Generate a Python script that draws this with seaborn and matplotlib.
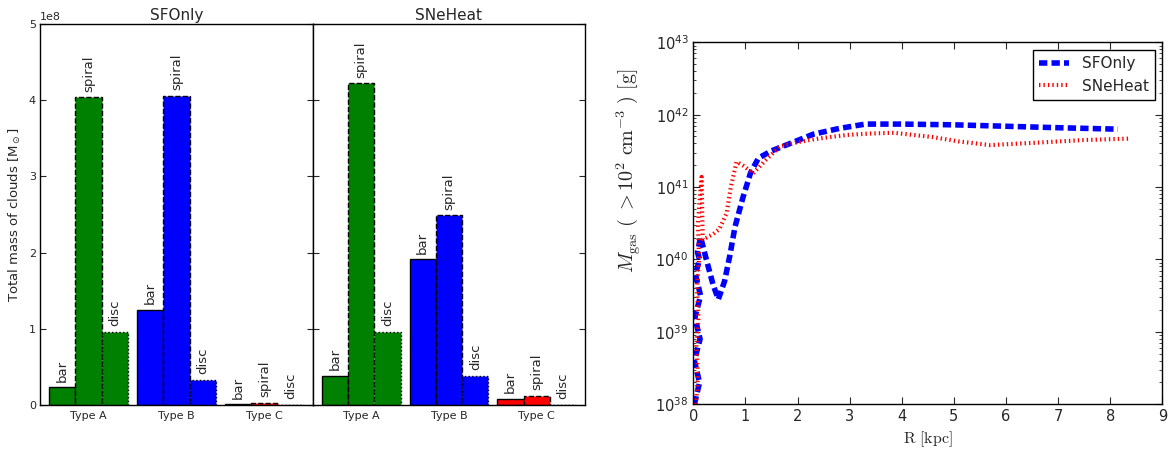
import numpy as np
import pandas as pd
import matplotlib
matplotlib.use("Agg")
import matplotlib.pyplot as plt
import seaborn as sns

# --- cloud masses (units of 1e8 Msun), rows = galaxy type, cols = morphology
types = ["Type A", "Type B", "Type C"]
shapes = ["bar", "spiral", "disc"]
type_colors = ["green", "blue", "red"]
shape_styles = ["-", "--", ":"]
sfonly_mass = [[0.23, 4.04, 0.96],
               [1.25, 4.055, 0.33],
               [0.01, 0.03, 0.006]]
sneheat_mass = [[0.385, 4.22, 0.96],
                [1.91, 2.49, 0.385],
                [0.083, 0.118, 0.005]]

# --- dense gas mass profiles, log10(M/g) against R [kpc]
sf_r = [0.02, 0.12, 0.02, 0.13, 0.03, 0.14, 0.04, 0.12, 0.08, 0.14, 0.25, 0.38,
        0.48, 0.60, 0.70, 0.80, 0.95, 1.10, 1.25, 1.50, 1.85, 2.30, 2.80, 3.30,
        4.00, 5.00, 6.00, 7.00, 8.15]
sf_logm = [38.0, 38.3, 38.6, 38.9, 39.2, 39.5, 39.8, 40.0, 40.1, 40.31, 40.0, 39.65,
           39.45, 39.7, 40.05, 40.45, 40.85, 41.2, 41.4, 41.5, 41.6, 41.73, 41.81, 41.87,
           41.87, 41.86, 41.84, 41.82, 41.80]
sh_r = [0.05, 0.09, 0.06, 0.10, 0.07, 0.11, 0.09, 0.13, 0.16, 0.18, 0.25, 0.38,
        0.50, 0.64, 0.72, 0.83, 0.95, 1.15, 1.40, 1.66, 2.00, 2.40, 2.95, 3.40,
        3.85, 4.60, 5.10, 5.70, 6.50, 7.50, 8.40]
sh_logm = [38.0, 38.4, 38.8, 39.2, 39.6, 40.0, 40.5, 40.9, 41.14, 40.28, 40.3, 40.35,
           40.42, 40.64, 41.0, 41.35, 41.3, 41.19, 41.38, 41.56, 41.62, 41.67, 41.72, 41.74,
           41.75, 41.69, 41.63, 41.58, 41.61, 41.65, 41.67]

sns.set_style("ticks", {"xtick.direction": "in", "ytick.direction": "in"})
plt.rcParams["font.family"] = ["DejaVu Sans"]
plt.rcParams["lines.scale_dashes"] = False

fig = plt.figure(figsize=(11.68, 4.5), dpi=100)
ax1 = fig.add_axes([40 / 1168, 0.1, 273 / 1168, 381 / 450])
ax2 = fig.add_axes([313 / 1168, 0.1, 272 / 1168, 381 / 450], sharey=ax1)
ax3 = fig.add_axes([693.3 / 1168, 0.1016, 469 / 1168, 362 / 450])


def mass_panel(ax, masses, title):
    rows = []
    for t, row in zip(types, masses):
        for s, m in zip(shapes, row):
            rows.append({"type": t, "shape": s, "mass": m * 1e8})
    df = pd.DataFrame(rows)
    sns.barplot(data=df, x="type", y="mass", hue="shape", order=types,
                hue_order=shapes, width=0.9, errorbar=None, saturation=1,
                legend=False, ax=ax)
    for i, cont in enumerate(ax.containers):
        for patch in cont:
            j = int(round(patch.get_x() + patch.get_width() / 2))
            patch.set_facecolor(type_colors[j])
            patch.set_edgecolor("black")
            patch.set_linestyle(shape_styles[i])
            patch.set_linewidth(1.0)
        ax.bar_label(cont, labels=[shapes[i]] * len(cont), rotation=90,
                     padding=4, fontsize=9.5)
    ax.set_xlim(-0.55, 2.55)
    ax.set_ylim(0, 5e8)
    ax.set_title(title, fontsize=11, pad=3)
    ax.set_xlabel("")
    ax.set_ylabel("")
    ax.tick_params(axis="x", length=0, labelsize=8, pad=4)
    ax.tick_params(axis="y", which="both", left=True, right=True, length=4,
                   labelsize=8, pad=3)
    for sp in ax.spines.values():
        sp.set_visible(True)
        sp.set_color("black")
        sp.set_linewidth(1.0)


mass_panel(ax1, sfonly_mass, "SFOnly")
mass_panel(ax2, sneheat_mass, "SNeHeat")
ax1.set_ylabel(r"Total mass of clouds [$\mathrm{M_\odot}$]", fontsize=9.5, labelpad=4)
ax1.yaxis.get_offset_text().set_fontsize(8)
ax1.set_yticks(np.arange(0, 6) * 1e8)
plt.setp(ax2.get_yticklabels(), visible=False)
ax2.yaxis.get_offset_text().set_visible(False)

# right panel
sns.lineplot(x=sf_r, y=10 ** np.array(sf_logm), sort=False, estimator=None,
             color="blue", lw=4, label="SFOnly", ax=ax3)
sns.lineplot(x=sh_r, y=10 ** np.array(sh_logm), sort=False, estimator=None,
             color="red", lw=3, label="SNeHeat", ax=ax3)
ax3.lines[0].set_dashes((6, 3))
ax3.lines[1].set_dashes((1, 2.2))
ax3.set_yscale("log")
ax3.set_xlim(0, 9)
ax3.set_ylim(1e38, 1e43)
ax3.set_xticks(range(10))
ax3.tick_params(which="both", top=True, right=True, labelsize=10.5)
ax3.tick_params(which="major", length=5)
ax3.tick_params(which="minor", length=2.5)
for sp in ax3.spines.values():
    sp.set_visible(True)
    sp.set_color("black")
    sp.set_linewidth(1.0)
ax3.set_xlabel(r"$\mathrm{R\ [kpc]}$", fontsize=11.5, math_fontfamily="cm", labelpad=4)
ax3.set_ylabel(r"$M_{\rm gas}\ (\ >10^2\ {\rm cm^{-3}}\ )\ [{\rm g}]$", fontsize=14.5,
               math_fontfamily="cm")
ax3.yaxis.set_label_coords(-0.107, 0.644)
ax3.legend(loc="upper right", fancybox=False, edgecolor="black", framealpha=1,
           fontsize=11, handlelength=2.0)

fig.savefig("out.png", dpi=100)
